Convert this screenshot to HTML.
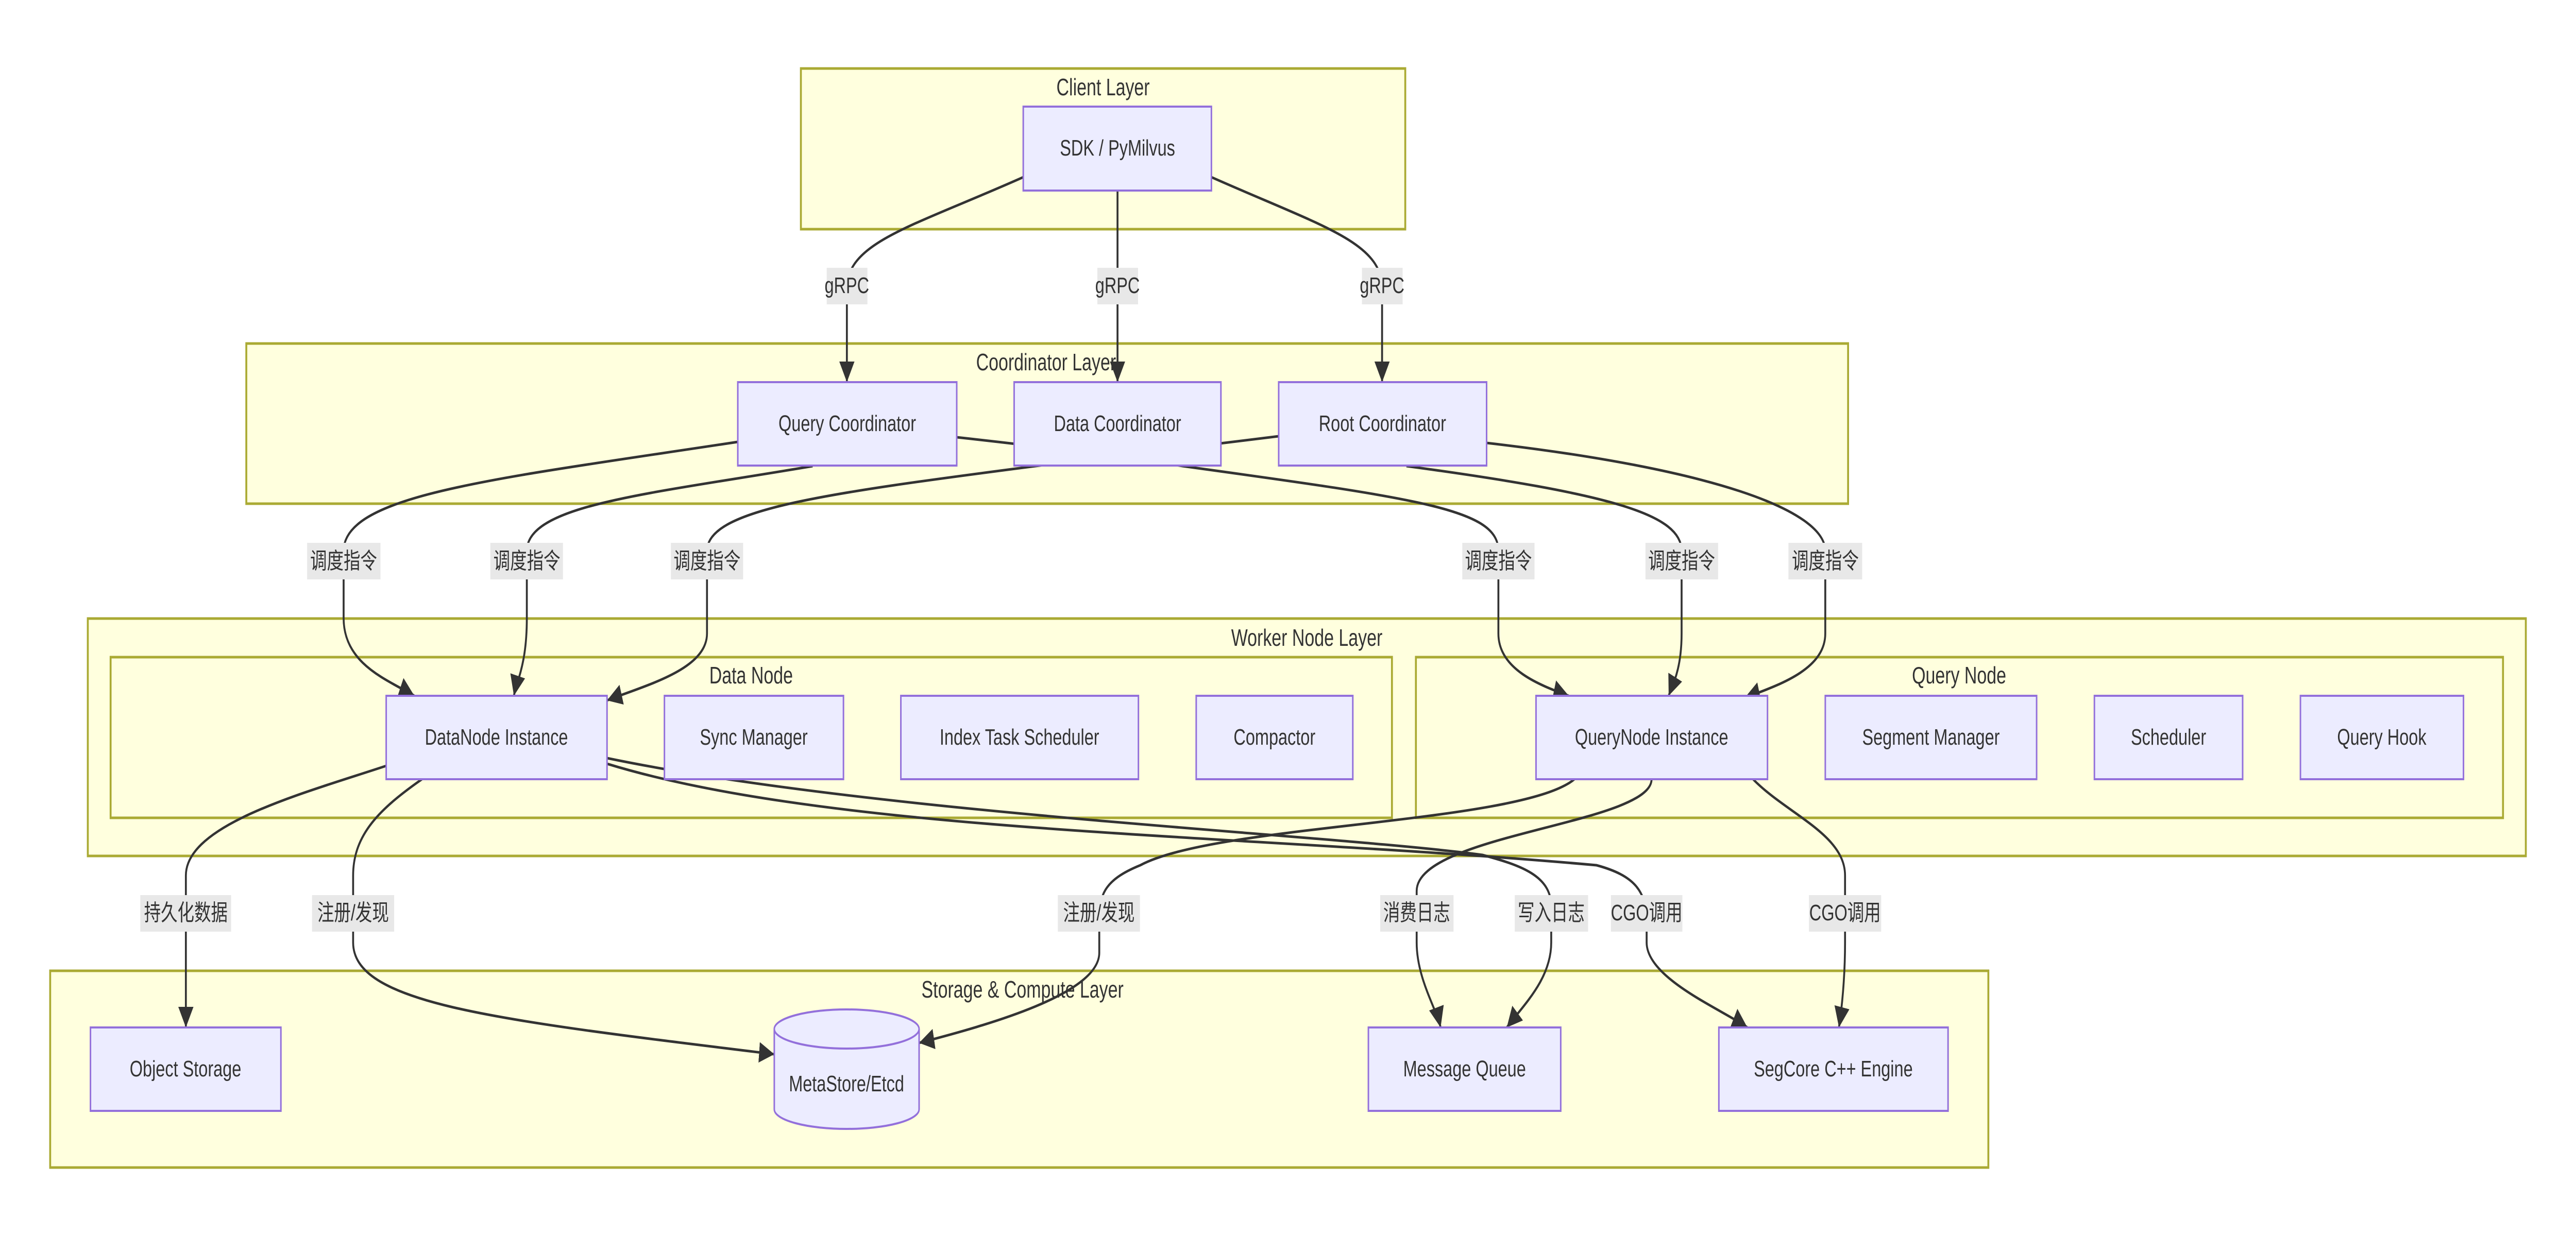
<!DOCTYPE html>
<html><head><meta charset="utf-8"><style>
html,body{margin:0;padding:0;background:#fff;width:100%;height:100%;overflow:hidden;}
svg{display:block;width:100vw;height:100vh;}
text{font-family:"Liberation Sans","Noto Sans CJK SC",sans-serif;fill:#333;}
</style></head><body>
<svg viewBox="0 0 6777 2398" preserveAspectRatio="none" xmlns="http://www.w3.org/2000/svg">
<defs>
<marker id="ah" markerUnits="userSpaceOnUse" markerWidth="40" markerHeight="40" viewBox="0 0 10 10" refX="10" refY="5" orient="auto">
<path d="M0,0 L10,5 L0,10 z" fill="#333"/>
</marker>
</defs>
<g fill="#ffffde" stroke="#aaaa33" stroke-width="5">
<rect x="2107" y="133" width="1590" height="312"/>
<rect x="648" y="667" width="4214" height="311"/>
<rect x="231" y="1201" width="6414" height="461"/>
<rect x="291" y="1276" width="3371" height="312"/>
<rect x="3725" y="1276" width="2860" height="312"/>
<rect x="132" y="1885" width="5099" height="382"/>
</g>
<g font-size="46" text-anchor="middle" dominant-baseline="central">
<text x="2902" y="169">Client Layer</text>
<text x="2752" y="703">Coordinator Layer</text>
<text x="3438" y="1238">Worker Node Layer</text>
<text x="1976" y="1311">Data Node</text>
<text x="5154" y="1311">Query Node</text>
<text x="2690" y="1921">Storage &amp; Compute Layer</text>
</g>
<g fill="none" stroke="#333" stroke-width="5" marker-end="url(#ah)">
<path d="M2692,344 C2400,440 2228,470 2228,560 L2228,742"/>
<path d="M2940,370 L2940,742"/>
<path d="M3187,344 C3480,440 3636,470 3636,560 L3636,742"/>
<path d="M1941,858 C1300,930 904,960 904,1070 L904,1200 C904,1290 1020,1320 1090,1351"/>
<path d="M2138,905 C1700,960 1386,980 1386,1070 L1386,1200 C1386,1290 1360,1320 1352,1351"/>
<path d="M3364,847 C2900,890 2724,905 2724,905 C2150,960 1860,990 1860,1070 L1860,1230 C1860,1300 1700,1330 1597,1360"/>
<path d="M2517,849 C2900,880 3111,905 3111,905 C3750,970 3942,990 3942,1070 L3942,1230 C3942,1300 4050,1330 4127,1351"/>
<path d="M3700,905 C4250,960 4424,1000 4424,1070 L4424,1230 C4424,1300 4400,1330 4390,1351"/>
<path d="M3911,860 C4500,910 4802,990 4802,1070 L4802,1230 C4802,1300 4680,1330 4590,1355"/>
<path d="M1016,1487 C800,1540 489,1600 489,1700 L489,1995"/>
<path d="M1110,1513 C1000,1570 929,1620 929,1700 L929,1830 C929,1950 1300,1980 2037,2047"/>
<path d="M1597,1472 C2300,1580 3500,1620 3900,1660 C4000,1680 4081,1700 4081,1760 L4081,1830 C4081,1900 4010,1950 3964,1995"/>
<path d="M1597,1483 C2200,1620 3300,1620 4200,1680 C4300,1700 4332,1730 4332,1790 L4332,1830 C4332,1900 4530,1960 4597,1995"/>
<path d="M4142,1513 C4000,1600 3200,1600 3000,1680 C2900,1710 2892,1740 2892,1790 L2892,1850 C2892,1930 2600,1990 2418,2025"/>
<path d="M4345,1513 C4345,1600 3727,1620 3727,1730 L3727,1830 C3727,1900 3780,1960 3790,1995"/>
<path d="M4612,1513 C4700,1580 4854,1620 4854,1700 L4854,1830 C4854,1900 4845,1960 4838,1995"/>
</g>
<g fill="#e8e8e8">
<rect x="2175" y="520" width="107" height="71"/>
<rect x="2887" y="520" width="107" height="71"/>
<rect x="3583" y="520" width="107" height="71"/>
<rect x="808" y="1054" width="193" height="71"/>
<rect x="1290" y="1054" width="191" height="71"/>
<rect x="1765" y="1054" width="190" height="71"/>
<rect x="3847" y="1054" width="190" height="71"/>
<rect x="4329" y="1054" width="191" height="71"/>
<rect x="4705" y="1054" width="194" height="71"/>
<rect x="369" y="1738" width="239" height="71"/>
<rect x="821" y="1738" width="216" height="71"/>
<rect x="2783" y="1738" width="216" height="71"/>
<rect x="3631" y="1738" width="193" height="71"/>
<rect x="3985" y="1738" width="193" height="71"/>
<rect x="4238" y="1738" width="188" height="71"/>
<rect x="4759" y="1738" width="190" height="71"/>
</g>
<g font-size="44" text-anchor="middle" dominant-baseline="central">
<text x="2228" y="555">gRPC</text>
<text x="2940" y="555">gRPC</text>
<text x="3636" y="555">gRPC</text>
<text x="904" y="1090">调度指令</text>
<text x="1386" y="1090">调度指令</text>
<text x="1860" y="1090">调度指令</text>
<text x="3942" y="1090">调度指令</text>
<text x="4424" y="1090">调度指令</text>
<text x="4802" y="1090">调度指令</text>
<text x="489" y="1773">持久化数据</text>
<text x="929" y="1773">注册/发现</text>
<text x="2891" y="1773">注册/发现</text>
<text x="3727" y="1773">消费日志</text>
<text x="4081" y="1773">写入日志</text>
<text x="4332" y="1773">CGO调用</text>
<text x="4854" y="1773">CGO调用</text>
</g>
<g fill="#ececff" stroke="#9370db" stroke-width="4">
<rect x="2692" y="207" width="495" height="163"/>
<rect x="1941" y="742" width="576" height="162"/>
<rect x="2668" y="742" width="544" height="162"/>
<rect x="3364" y="742" width="547" height="162"/>
<rect x="1016" y="1351" width="581" height="162"/>
<rect x="1748" y="1351" width="471" height="162"/>
<rect x="2370" y="1351" width="625" height="162"/>
<rect x="3147" y="1351" width="412" height="162"/>
<rect x="4041" y="1351" width="609" height="162"/>
<rect x="4802" y="1351" width="556" height="162"/>
<rect x="5510" y="1351" width="390" height="162"/>
<rect x="6052" y="1351" width="429" height="162"/>
<rect x="238" y="1995" width="501" height="162"/>
<rect x="3600" y="1995" width="506" height="162"/>
<rect x="4522" y="1995" width="603" height="162"/>
<path d="M2037,1998 L2037,2154 A190.5,38 0 0 0 2418,2154 L2418,1998 A190.5,38 0 0 0 2037,1998 A190.5,38 0 0 0 2418,1998"/>
</g>
<g font-size="44" text-anchor="middle" dominant-baseline="central">
<text x="2940" y="288">SDK / PyMilvus</text>
<text x="2229" y="823">Query Coordinator</text>
<text x="2940" y="823">Data Coordinator</text>
<text x="3637" y="823">Root Coordinator</text>
<text x="1306" y="1432">DataNode Instance</text>
<text x="1983" y="1432">Sync Manager</text>
<text x="2682" y="1432">Index Task Scheduler</text>
<text x="3353" y="1432">Compactor</text>
<text x="4345" y="1432">QueryNode Instance</text>
<text x="5080" y="1432">Segment Manager</text>
<text x="5705" y="1432">Scheduler</text>
<text x="6266" y="1432">Query Hook</text>
<text x="488" y="2076">Object Storage</text>
<text x="2227" y="2105">MetaStore/Etcd</text>
<text x="3853" y="2076">Message Queue</text>
<text x="4823" y="2076">SegCore C++ Engine</text>
</g>
</svg>
</body></html>
